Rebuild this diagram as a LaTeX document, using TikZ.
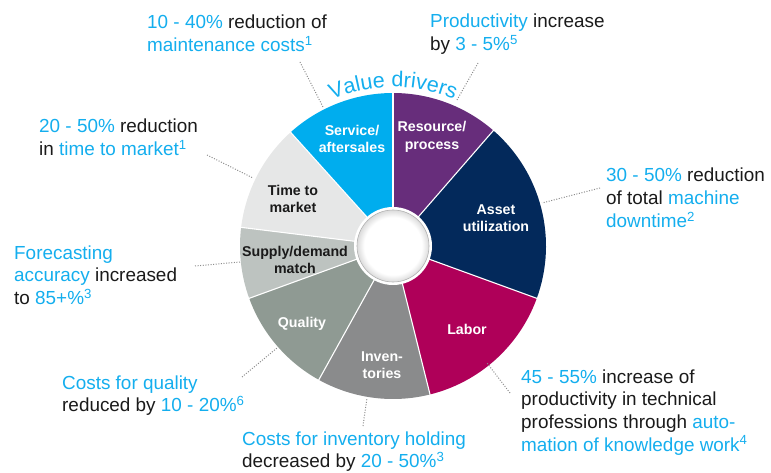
\documentclass[tikz,border=0pt]{standalone}
\usepackage{fontspec}
\setmainfont{Liberation Sans}
\usetikzlibrary{decorations.text}
\definecolor{tcyan}{HTML}{14AEEE}
\definecolor{tblack}{HTML}{1A1A1A}
\definecolor{cService}{HTML}{00ADEE}
\definecolor{cResource}{HTML}{672D7B}
\definecolor{cAsset}{HTML}{03295B}
\definecolor{cLabor}{HTML}{AF0059}
\definecolor{cInv}{HTML}{8A8B8C}
\definecolor{cQual}{HTML}{8F9A93}
\definecolor{cSupply}{HTML}{BDC3C0}
\definecolor{cTime}{HTML}{E6E7E7}
\definecolor{cDot}{HTML}{8C8C8C}
\pgfdeclareradialshading{rimshade}{\pgfpoint{0bp}{0bp}}{color(0bp)=(white); color(20bp)=(white); color(25bp)=(black!14); color(50bp)=(black!14)}
\newcommand{\hl}[1]{\textcolor{tcyan}{#1}}
\newcommand{\annfont}{\fontsize{18.9}{22.7}\selectfont}
\begin{document}
\begin{tikzpicture}[x=1pt,y=1pt,
  seglabel/.style={font=\bfseries\fontsize{14.2}{17.5}\selectfont, align=center, inner sep=0pt},
  wlabel/.style={seglabel, text=white},
  blabel/.style={seglabel, text=tblack},
  annot/.style={anchor=base west, inner sep=0pt, text=tblack, font=\annfont},
  dotline/.style={cDot, line width=1pt, dash pattern=on 1pt off 1.6pt},
  sep/.style={white, line width=1.1pt}]
\useasboundingbox (0,0) rectangle (771,472);
\coordinate (C) at (393,226);
% segments
\fill[cResource] (C) -- ++(90:153) arc[start angle=90, end angle=49, radius=153] -- cycle;
\fill[cAsset] (C) -- ++(49:153) arc[start angle=49, end angle=-20, radius=153] -- cycle;
\fill[cLabor] (C) -- ++(-20:153) arc[start angle=-20, end angle=-76, radius=153] -- cycle;
\fill[cInv] (C) -- ++(-76:153) arc[start angle=-76, end angle=-119, radius=153] -- cycle;
\fill[cQual] (C) -- ++(-119:153) arc[start angle=-119, end angle=-160, radius=153] -- cycle;
\fill[cSupply] (C) -- ++(-160:153) arc[start angle=-160, end angle=-187, radius=153] -- cycle;
\fill[cTime] (C) -- ++(-187:153) arc[start angle=-187, end angle=-228, radius=153] -- cycle;
\fill[cService] (C) -- ++(-228:153) arc[start angle=-228, end angle=-270, radius=153] -- cycle;
% separators
\foreach \a in {90,49,-20,-76,-119,-160,-187,-228}
  \draw[sep] (C) -- ++(\a:153.5);
% centre
\fill[white] (C) circle (39);
\shade[shading=rimshade] (C) circle (36);
\draw[black!30, line width=0.6pt] (C) circle (36);
% curved title
\path[decorate, decoration={text along path, text align=center,
  text={|\fontsize{21.5}{22}\selectfont\color{tcyan}|Value drivers}}]
  (301.8,356.2) arc[start angle=125, end angle=55, radius=159];
% segment labels
\node[wlabel] (service) at (352,333) {Service/\\aftersales};
\node[wlabel] (resource) at (432,335) {Resource/\\process};
\node[wlabel] (asset) at (496,254) {Asset\\utilization};
\node[blabel] (time) at (293,273) {Time to\\market};
\node[blabel] (supply) at (295,212) {Supply/demand\\match};
\node[wlabel] (quality) at (302,148) {Quality};
\node[wlabel] (inv) at (382,107) {Inven-\\tories};
\node[wlabel] (labor) at (467,143) {Labor};
% annotations
\node[annot] (a1) at (147,443) {\begin{tabular}[t]{@{}l@{}}\hl{10 - 40\%} reduction of\\\hl{maintenance costs\textsuperscript{1}}\end{tabular}};
\node[annot] (a2) at (430,444) {\begin{tabular}[t]{@{}l@{}}\hl{Productivity} increase\\by \hl{3 - 5\%\textsuperscript{5}}\end{tabular}};
\node[annot] (a3) at (39,339) {\begin{tabular}[t]{@{}l@{}}\hl{20 - 50\%} reduction\\in \hl{time to market\textsuperscript{1}}\end{tabular}};
\node[annot] (a4) at (606,290) {\begin{tabular}[t]{@{}l@{}}\hl{30 - 50\%} reduction\\of total \hl{machine}\\\hl{downtime\textsuperscript{2}}\end{tabular}};
\node[annot] (a5) at (14,213) {\begin{tabular}[t]{@{}l@{}}\hl{Forecasting}\\\hl{accuracy} increased\\to \hl{85+\%\textsuperscript{3}}\end{tabular}};
\node[annot] (a6) at (62,83) {\begin{tabular}[t]{@{}l@{}}\hl{Costs for quality}\\reduced by \hl{10 - 20\%\textsuperscript{6}}\end{tabular}};
\node[annot] (a7) at (242,27) {\begin{tabular}[t]{@{}l@{}}\hl{Costs for inventory holding}\\decreased by \hl{20 - 50\%\textsuperscript{3}}\end{tabular}};
\node[annot] (a8) at (521,89) {\begin{tabular}[t]{@{}l@{}}\hl{45 - 55\%} increase of\\productivity in technical\\professions through \hl{auto-}\\\hl{mation of knowledge work\textsuperscript{4}}\end{tabular}};
% dotted connectors
\coordinate (d1a) at (300,410); \coordinate (d1b) at (323,365);
\coordinate (d2a) at (478,409); \coordinate (d2b) at (457,372);
\coordinate (d3a) at (207,317); \coordinate (d3b) at (253,294);
\coordinate (d4a) at (600,284); \coordinate (d4b) at (542,269);
\coordinate (d5a) at (195,206); \coordinate (d5b) at (240,210);
\coordinate (d6a) at (242,95);  \coordinate (d6b) at (277,124);
\coordinate (d7a) at (363,46);  \coordinate (d7b) at (367,74);
\coordinate (d8a) at (510,79);  \coordinate (d8b) at (487,109);
\foreach \p in {1,...,8} \draw[dotline] (d\p a) -- (d\p b);
\end{tikzpicture}
\end{document}
